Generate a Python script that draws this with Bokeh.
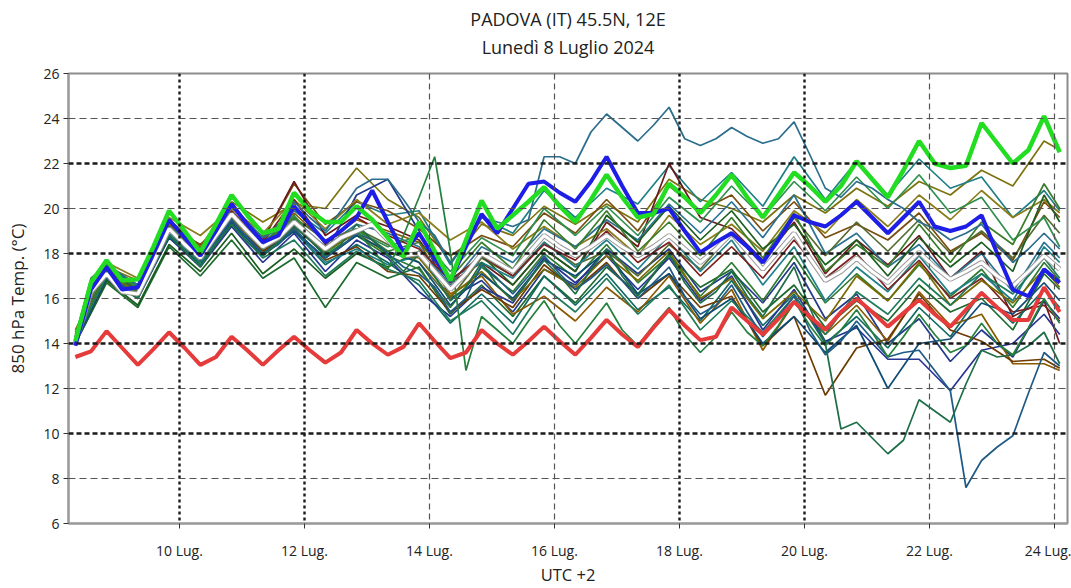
from bokeh.plotting import figure
from bokeh.models import Span, FixedTicker, Title, Range1d
from bokeh.embed import file_html
from bokeh.resources import INLINE

# ---------------- data ----------------
start_day = 8 + 8 / 24.0          # 8 Luglio, 08:00 (UTC+2)
hours_6h = list(range(0, 384, 6))                 # 64 steps, 6-hourly
hours_12h = list(range(0, 384, 12)) + [378]       # 33 steps, 12-hourly + last

tick_days = [10, 12, 14, 16, 18, 20, 22, 24]
tick_labels = ["10 Lug.", "12 Lug.", "14 Lug.", "16 Lug.", "18 Lug.", "20 Lug.", "22 Lug.", "24 Lug."]
y_ticks = [6, 8, 10, 12, 14, 16, 18, 20, 22, 24, 26]
title_lines = ["PADOVA (IT) 45.5N, 12E", "Lunedì 8 Luglio 2024"]

green_run = [14.1, 16.7, 17.7, 16.8, 16.85, 18.3, 19.9, 19.0,
             18.05, 19.3, 20.6, 19.7, 18.9, 19.1, 20.7, 19.9,
             19.4, 19.4, 20.1, 19.5, 18.7, 17.85, 19.4, 18.1,
             16.8, 18.6, 20.35, 19.1, 19.7, 20.3, 20.95, 20.1,
             19.4, 20.4, 21.5, 20.5, 19.6, 19.75, 21.1, 20.5,
             19.8, 20.6, 21.5, 20.5, 19.6, 20.6, 21.6, 21.0,
             20.3, 21.0, 22.1, 21.3, 20.5, 21.7, 23.0, 22.0,
             21.8, 21.9, 23.8, 22.9, 22.0, 22.6, 24.1, 22.5]

blue_run = [13.9, 16.4, 17.4, 16.4, 16.5, 18.0, 19.5, 18.7,
            17.9, 19.0, 20.2, 19.3, 18.5, 18.8, 20.1, 19.3,
            18.5, 19.0, 19.6, 20.8, 19.4, 18.05, 18.9, 17.8,
            16.8, 18.3, 19.75, 18.9, 20.0, 21.1, 21.2, 20.7,
            20.3, 21.2, 22.3, 21.0, 19.8, 19.8, 20.0, 19.0,
            18.05, 18.5, 18.9, 18.3, 17.6, 18.6, 19.7, 19.4,
            19.2, 19.7, 20.3, 19.6, 18.9, 19.6, 20.3, 19.2,
            19.0, 19.2, 19.7, 18.0, 16.4, 16.1, 17.3, 16.7]

mean_run = [14.0, 16.3, 17.1, 16.3, 16.2, 17.6, 19.1, 18.4,
            17.8, 18.8, 19.75, 19.0, 18.3, 18.7, 19.4, 18.8,
            18.2, 18.7, 19.0, 19.3, 18.6, 17.9, 18.0, 17.2,
            16.4, 17.1, 18.0, 17.6, 17.2, 18.0, 18.8, 18.3,
            17.9, 18.3, 18.8, 18.3, 17.9, 18.3, 18.8, 18.2,
            17.6, 18.2, 18.9, 18.1, 17.3, 18.1, 18.9, 17.8,
            16.8, 17.2, 17.8, 17.2, 16.7, 17.4, 18.05, 17.4,
            16.85, 17.2, 17.6, 17.0, 16.55, 17.2, 17.9, 17.3]

red_run = [13.4, 13.65, 14.55, 13.8, 13.05, 13.75, 14.5, 13.8,
           13.05, 13.4, 14.3, 13.7, 13.05, 13.7, 14.3, 13.7,
           13.15, 13.6, 14.6, 14.0, 13.5, 13.85, 14.9, 14.1,
           13.35, 13.6, 14.6, 14.0, 13.5, 14.1, 14.75, 14.1,
           13.5, 14.25, 15.05, 14.4, 13.85, 14.7, 15.5, 14.8,
           14.15, 14.3, 15.6, 15.0, 14.4, 15.1, 15.85, 15.2,
           14.6, 15.4, 16.0, 15.4, 14.75, 15.35, 15.95, 15.3,
           14.75, 15.5, 16.25, 15.6, 15.05, 15.05, 16.5, 15.4]

# members with 6-hourly detail
m6_a = [14.3, 16.8, 17.6, 17.0, 16.6, 17.9, 19.5, 18.8,
        18.2, 19.0, 20.1, 19.4, 18.7, 19.1, 20.3, 19.6,
        19.0, 19.9, 20.9, 21.3, 21.3, 20.4, 19.4, 18.8,
        17.6, 18.4, 19.6, 19.4, 19.2, 19.5, 22.3, 22.3,
        22.0, 23.4, 24.2, 23.6, 23.0, 23.7, 24.5, 23.1,
        22.8, 23.1, 23.6, 23.2, 22.9, 23.1, 23.85, 22.4,
        20.9, 20.5, 21.2, 20.9, 20.4, 20.0, 19.4, 19.1,
        18.6, 18.9, 19.3, 18.4, 17.6, 18.2, 18.9, 18.2]
m6_b = [14.1, 16.5, 17.3, 16.6, 16.1, 17.6, 19.0, 18.4,
        17.7, 18.6, 19.5, 18.7, 18.0, 18.4, 19.1, 18.4,
        17.8, 18.3, 18.9, 18.6, 18.0, 17.4, 17.1, 16.5,
        15.4, 16.0, 17.5, 16.9, 16.2, 17.0, 17.9, 17.1,
        16.4, 16.9, 17.5, 16.8, 16.0, 16.7, 17.4, 16.1,
        15.3, 15.7, 16.6, 15.4, 14.3, 15.2, 16.1, 14.6,
        13.5, 14.1, 15.0, 14.2, 13.4, 13.6, 13.7, 12.8,
        11.9, 7.6, 8.8, 9.4, 9.9, 11.8, 13.6, 13.0]
m6_c = [14.2, 16.6, 17.2, 16.5, 16.0, 17.5, 18.8, 18.1,
        17.4, 18.4, 19.3, 18.5, 17.9, 18.5, 19.2, 18.6,
        17.9, 18.4, 19.3, 18.6, 17.9, 17.2, 18.0, 17.0,
        15.9, 16.5, 17.6, 16.6, 15.9, 16.8, 17.7, 17.0,
        16.2, 17.3, 18.2, 17.0, 16.1, 17.1, 18.0, 16.7,
        15.8, 16.3, 17.2, 16.1, 15.2, 16.3, 17.4, 15.6,
        14.0, 10.2, 10.5, 9.8, 9.1, 9.7, 11.5, 11.0,
        10.5, 12.2, 13.7, 13.4, 13.5, 13.9, 14.5, 13.1]
m6_d = [14.3, 16.9, 17.5, 16.9, 16.4, 17.8, 19.2, 18.5,
        17.9, 18.9, 19.8, 18.9, 18.2, 18.7, 19.5, 18.8,
        18.3, 18.6, 19.0, 18.2, 17.3, 18.8, 20.5, 22.3,
        18.1, 12.8, 15.2, 14.6, 14.0, 15.0, 15.9, 14.8,
        14.0, 14.9, 15.8, 14.6, 13.9, 14.8, 15.6, 14.4,
        13.6, 14.3, 15.4, 14.5, 13.9, 14.8, 15.9, 14.8,
        13.9, 14.6, 15.5, 14.5, 13.4, 14.3, 15.3, 14.4,
        13.6, 13.9, 14.9, 14.0, 13.5, 14.7, 16.0, 14.9]

# members with 12-hourly values
m12_01 = [14.6, 17.4, 16.8, 19.5, 18.3, 20.3, 19.4, 20.2, 20.0, 21.8, 20.4, 19.6, 17.6, 19.3, 18.8, 20.1, 19.3, 20.2, 19.4, 21.3, 20.4, 20.0, 19.4, 20.6, 19.8, 20.9, 20.1, 21.2, 20.6, 21.7, 21.0, 23.0, 22.6]
m12_02 = [14.3, 17.5, 16.6, 19.3, 18.2, 20.1, 18.7, 19.9, 18.9, 20.3, 19.7, 19.9, 17.5, 19.6, 18.9, 20.8, 19.6, 20.9, 20.2, 21.9, 20.3, 21.6, 20.1, 22.3, 20.4, 22.1, 20.6, 22.2, 20.9, 21.4, 19.6, 20.8, 19.9]
m12_03 = [14.2, 17.0, 16.4, 19.2, 18.4, 19.6, 18.6, 21.1, 19.3, 20.3, 19.9, 19.1, 17.9, 18.8, 18.3, 19.8, 18.9, 20.4, 19.0, 21.0, 19.9, 20.6, 19.0, 20.3, 18.7, 19.3, 18.6, 19.8, 18.1, 18.9, 17.7, 20.3, 19.6]
m12_04 = [14.3, 17.3, 16.3, 19.4, 18.0, 20.1, 18.6, 21.2, 18.8, 19.7, 19.2, 18.6, 16.7, 17.6, 16.6, 18.2, 17.2, 19.4, 18.3, 22.0, 19.6, 19.1, 17.7, 19.4, 17.1, 18.6, 17.5, 18.8, 16.9, 18.1, 15.2, 15.9, 14.0]
m12_05 = [14.0, 17.0, 16.1, 18.9, 17.6, 19.6, 18.0, 19.2, 18.0, 20.6, 21.3, 19.0, 16.0, 16.8, 15.4, 17.3, 16.6, 18.2, 17.1, 18.2, 16.3, 17.2, 15.8, 17.6, 15.1, 16.2, 14.0, 15.1, 13.2, 14.6, 13.4, 15.9, 15.1]
m12_06 = [14.0, 16.7, 15.6, 18.3, 17.0, 18.6, 16.9, 17.8, 15.6, 17.6, 16.9, 17.4, 15.3, 16.6, 15.2, 17.0, 15.8, 17.4, 16.2, 17.9, 16.5, 17.3, 15.4, 16.6, 14.7, 15.9, 15.0, 16.6, 15.4, 16.0, 14.6, 17.1, 16.4]
m12_07 = [14.5, 17.6, 16.9, 19.6, 18.8, 20.0, 18.9, 20.4, 19.1, 20.4, 19.3, 19.8, 18.6, 19.4, 18.2, 19.2, 18.3, 19.1, 17.9, 19.7, 18.4, 19.3, 18.1, 19.9, 18.9, 20.4, 19.2, 20.6, 19.5, 20.8, 19.6, 20.4, 19.8]
m12_08 = [14.2, 17.2, 16.3, 19.0, 17.7, 19.5, 18.2, 19.3, 17.9, 18.8, 17.9, 17.3, 15.6, 17.4, 16.3, 18.0, 16.9, 18.4, 16.7, 17.9, 16.1, 17.6, 15.9, 17.9, 15.8, 17.1, 15.9, 17.5, 16.1, 17.3, 15.6, 17.6, 16.8]
m12_09 = [14.1, 16.9, 16.0, 18.8, 17.5, 19.3, 18.0, 19.0, 17.5, 18.4, 17.6, 16.6, 14.9, 16.2, 14.9, 17.0, 15.7, 17.1, 15.5, 16.5, 15.0, 16.8, 14.8, 16.2, 14.0, 15.2, 13.8, 15.6, 14.3, 16.3, 14.9, 16.4, 15.6]
m12_10 = [14.4, 17.3, 16.5, 19.3, 18.1, 19.8, 18.4, 19.8, 18.5, 19.5, 19.0, 18.5, 16.2, 17.0, 15.3, 16.1, 15.0, 16.5, 15.4, 17.0, 14.9, 16.4, 13.7, 15.8, 14.4, 15.7, 14.1, 16.3, 14.8, 15.3, 13.1, 13.1, 12.8]
m12_11 = [14.2, 17.1, 16.2, 19.1, 17.9, 19.7, 18.3, 19.5, 18.3, 19.3, 18.9, 18.3, 16.6, 18.3, 17.6, 19.1, 18.3, 19.5, 18.6, 20.2, 18.9, 20.3, 18.7, 20.6, 18.0, 18.9, 17.4, 18.4, 16.9, 18.0, 16.3, 18.5, 17.8]
m12_12 = [14.4, 17.2, 16.6, 19.0, 18.2, 19.4, 18.8, 19.6, 18.6, 19.1, 18.4, 17.6, 16.0, 17.8, 17.0, 18.5, 17.5, 18.1, 17.0, 18.4, 17.3, 18.9, 17.6, 19.6, 17.9, 19.4, 18.1, 19.5, 18.0, 19.0, 17.8, 19.7, 18.9]
m12_13 = [14.1, 16.8, 16.1, 18.7, 17.4, 19.2, 17.6, 18.9, 17.2, 18.6, 17.8, 16.3, 15.2, 16.5, 15.8, 17.8, 16.7, 17.9, 16.4, 17.8, 15.9, 17.0, 14.6, 16.4, 14.1, 14.7, 13.3, 13.3, 11.9, 13.7, 14.0, 15.3, 14.4]
m12_14 = [14.0, 16.8, 15.7, 18.4, 17.2, 18.9, 17.1, 18.2, 16.9, 18.0, 17.4, 18.1, 16.4, 17.9, 16.6, 18.2, 17.2, 19.7, 18.5, 20.1, 18.6, 19.9, 18.2, 19.3, 17.5, 18.6, 17.0, 18.7, 17.4, 18.5, 17.2, 20.6, 19.4]
m12_15 = [14.3, 17.1, 16.2, 18.9, 17.9, 19.6, 18.1, 19.1, 17.7, 18.3, 17.2, 17.0, 15.4, 16.4, 15.6, 17.5, 16.4, 17.6, 16.0, 17.1, 15.6, 16.1, 13.9, 15.2, 11.7, 13.8, 14.2, 16.2, 14.6, 14.1, 13.2, 13.3, 12.9]
m12_16 = [14.2, 17.4, 16.5, 19.2, 18.1, 19.9, 18.5, 19.7, 18.0, 19.0, 18.3, 18.8, 17.2, 18.7, 17.9, 20.0, 18.8, 20.1, 18.8, 20.5, 19.4, 21.0, 19.6, 21.2, 19.9, 21.4, 20.0, 21.5, 19.8, 20.5, 18.6, 19.6, 18.3]
m12_17 = [14.1, 17.0, 16.2, 18.9, 17.8, 19.5, 18.2, 19.0, 17.6, 18.2, 17.5, 17.9, 16.9, 17.6, 16.9, 18.5, 17.4, 18.6, 17.3, 18.8, 17.2, 18.6, 16.6, 18.3, 15.9, 17.4, 16.3, 17.9, 16.2, 17.1, 15.9, 18.3, 17.6]
m12_18 = [14.3, 17.2, 16.4, 19.2, 17.8, 19.9, 18.5, 20.4, 18.4, 19.6, 18.8, 18.2, 16.8, 17.9, 17.0, 18.4, 17.7, 19.0, 17.6, 18.5, 17.0, 18.3, 16.9, 18.6, 16.9, 18.0, 16.4, 17.7, 16.0, 16.9, 15.4, 15.7, 15.0]
m12_19 = [14.2, 17.0, 16.3, 19.1, 18.0, 19.5, 18.2, 19.2, 18.1, 18.9, 18.0, 17.8, 16.1, 17.2, 15.9, 17.3, 16.5, 17.9, 16.8, 18.1, 16.0, 16.9, 15.1, 16.3, 15.0, 17.0, 15.9, 17.6, 15.7, 16.8, 15.8, 17.3, 16.5]
m12_20 = [14.0, 16.9, 16.0, 18.7, 17.6, 19.4, 17.9, 19.0, 17.8, 18.8, 18.1, 17.6, 15.7, 17.1, 16.0, 17.7, 17.0, 18.1, 16.2, 17.1, 15.1, 16.0, 14.0, 15.2, 13.6, 14.8, 12.0, 14.0, 14.2, 15.8, 15.3, 16.7, 15.9]
m12_21 = [14.3, 17.2, 16.3, 19.0, 17.9, 19.8, 18.4, 19.6, 18.1, 19.1, 18.1, 18.5, 16.9, 18.5, 17.3, 19.5, 18.2, 19.9, 18.1, 19.4, 17.9, 19.6, 17.8, 19.8, 17.2, 18.4, 17.4, 19.3, 17.6, 19.4, 18.4, 21.1, 20.0]
m12_22 = [14.2, 17.0, 16.1, 18.8, 17.6, 19.3, 17.8, 18.6, 17.0, 18.1, 17.3, 16.8, 15.0, 15.9, 14.4, 16.5, 15.4, 16.9, 15.3, 16.6, 14.6, 15.9, 14.5, 16.1, 14.4, 16.3, 15.3, 16.9, 15.7, 17.1, 16.2, 17.8, 16.9]

members_6h = [m6_a, m6_b, m6_c, m6_d]
members_6h_colors = ["#2b6d8c", "#1f5a86", "#1e6e48", "#25803c"]
members_12h = [m12_01, m12_02, m12_03, m12_04, m12_05, m12_06, m12_07, m12_08,
               m12_09, m12_10, m12_11, m12_12, m12_13, m12_14, m12_15, m12_16,
               m12_17, m12_18, m12_19, m12_20, m12_21, m12_22]
members_12h_colors = ["#7d7410", "#1f7f86", "#7a4c10", "#6a1a1a", "#233a8a", "#1b6a2e",
                      "#8a7d1a", "#2e7d32", "#0f6a62", "#8b5a00", "#2a7393", "#556b2f",
                      "#283593", "#1b5e20", "#6d3a00", "#2f8f4f", "#20808a", "#7b1f1f",
                      "#7a6a00", "#0f4c75", "#3a7d2a", "#1e7b5a"]

# ---------------- figure ----------------
x6 = [start_day + h / 24.0 for h in hours_6h]
x12 = [start_day + h / 24.0 for h in hours_12h]

FONT = "Open Sans"

p = figure(width=1071, height=588, x_range=Range1d(8.224, 24.208), y_range=Range1d(6, 26),
           output_backend="svg", toolbar_location=None,
           min_border_left=68, min_border_right=4, min_border_top=73, min_border_bottom=65)
p.background_fill_color = "white"
p.border_fill_color = "white"
p.outline_line_color = "#8c8c8c"
p.outline_line_width = 2

# two-line heading (outer line = p.title, inner line added next to the frame)
p.title.text = title_lines[0]
p.title.align = "center"
p.title.text_font = FONT
p.title.text_font_size = "18px"
p.title.text_font_style = "normal"
p.title.text_color = "#222222"
p.title.standoff = -25
p.add_layout(Title(text=title_lines[1], align="center", text_font=FONT,
                   text_font_size="18px", text_font_style="normal", text_color="#222222",
                   standoff=29), "above")

p.xgrid.visible = False
p.ygrid.visible = False

# grid lines
for d in tick_days:
    bold = d in (10, 12, 18, 20)
    p.add_layout(Span(location=d, dimension="height",
                      line_color="#1a1a1a" if bold else "#555555",
                      line_width=2.4 if bold else 1.2,
                      line_dash="3 3" if bold else "6 4"))
for v in y_ticks[1:-1]:
    bold = v in (10, 14, 18, 22)
    p.add_layout(Span(location=v, dimension="width",
                      line_color="#1a1a1a" if bold else "#555555",
                      line_width=2.4 if bold else 1.2,
                      line_dash="5 3" if bold else "7 4"))

# thin ensemble members
for vals, col in zip(members_12h, members_12h_colors):
    p.line(x12, vals, line_color=col, line_width=1.7)
for vals, col in zip(members_6h, members_6h_colors):
    p.line(x6, vals, line_color=col, line_width=1.7)

# ensemble mean (white with grey edge)
p.line(x6, mean_run, line_color="#9a9a9a", line_width=5)
p.line(x6, mean_run, line_color="white", line_width=3)
# red, blue, green thick lines
p.line(x6, red_run, line_color="#e53b3b", line_width=4)
p.line(x6, blue_run, line_color="#1e1ee6", line_width=4)
p.line(x6, green_run, line_color="#22dd22", line_width=4.5)

# axes
p.xaxis.ticker = FixedTicker(ticks=tick_days)
p.xaxis.major_label_overrides = {d: lab for d, lab in zip(tick_days, tick_labels)}
p.yaxis.ticker = FixedTicker(ticks=y_ticks)
for ax in (p.xaxis, p.yaxis):
    ax.minor_tick_line_color = None
    ax.major_tick_in = 0
    ax.major_tick_out = 5
    ax.major_tick_line_color = "#333333"
    ax.axis_line_color = "#9a9a9a"
    ax.axis_line_width = 2
    ax.major_label_text_font = FONT
    ax.major_label_text_font_size = "14px"
    ax.major_label_text_color = "#222222"
    ax.axis_label_text_font = FONT
    ax.axis_label_text_font_style = "normal"
    ax.axis_label_text_color = "#222222"
p.xaxis.axis_label = "UTC +2"
p.xaxis.axis_label_text_font_size = "16.5px"
p.xaxis.major_label_standoff = 12
p.xaxis.axis_label_standoff = 0
p.yaxis.axis_label = "850 hPa Temp. (°C)"
p.yaxis.axis_label_text_font_size = "17px"
p.yaxis.major_label_standoff = 4
p.yaxis.axis_label_standoff = 11

open("out.html", "w").write(file_html(p, INLINE))
